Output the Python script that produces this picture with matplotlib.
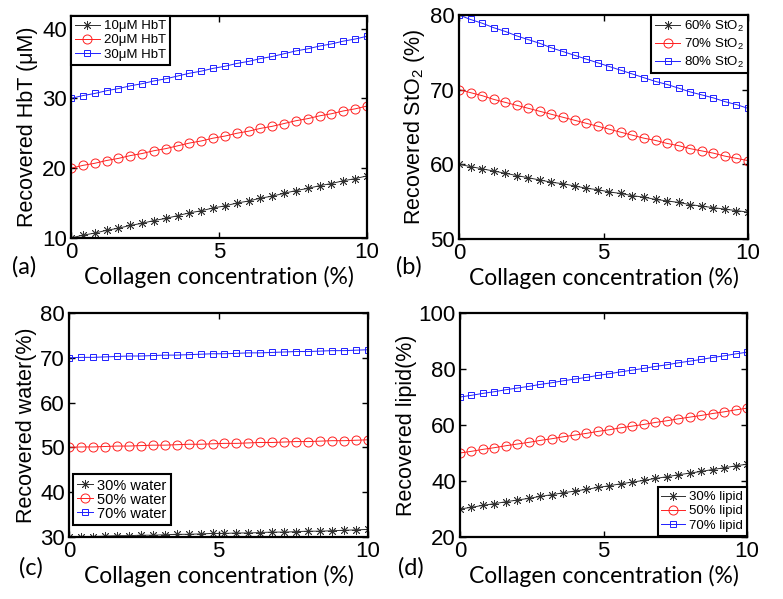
import matplotlib
matplotlib.use("Agg")
import matplotlib.pyplot as plt
import numpy as np

plt.rcParams['font.family'] = ['Liberation Sans', 'DejaVu Sans']
plt.rcParams['mathtext.default'] = 'regular'

# ---------------- data ----------------
collagen = [0.0, 0.4, 0.8, 1.2, 1.6, 2.0, 2.4, 2.8, 3.2, 3.6, 4.0, 4.4, 4.8,
            5.2, 5.6, 6.0, 6.4, 6.8, 7.2, 7.6, 8.0, 8.4, 8.8, 9.2, 9.6, 10.0]

hbt_10 = [10.0, 10.4, 10.7, 11.1, 11.4, 11.8, 12.1, 12.5, 12.8, 13.2, 13.6, 13.9, 14.3,
          14.6, 15.0, 15.3, 15.7, 16.0, 16.4, 16.8, 17.1, 17.5, 17.8, 18.2, 18.5, 18.9]
hbt_20 = [20.0, 20.4, 20.7, 21.1, 21.4, 21.8, 22.1, 22.5, 22.8, 23.2, 23.6, 23.9, 24.3,
          24.6, 25.0, 25.3, 25.7, 26.0, 26.4, 26.8, 27.1, 27.5, 27.8, 28.2, 28.5, 28.9]
hbt_30 = [30.0, 30.4, 30.7, 31.1, 31.4, 31.8, 32.1, 32.5, 32.8, 33.2, 33.6, 33.9, 34.3,
          34.6, 35.0, 35.3, 35.7, 36.0, 36.4, 36.8, 37.1, 37.5, 37.8, 38.2, 38.5, 38.9]

sto2_60 = [60.0, 59.7, 59.4, 59.1, 58.8, 58.5, 58.2, 57.9, 57.6, 57.4, 57.1, 56.8, 56.6,
           56.3, 56.1, 55.8, 55.6, 55.3, 55.1, 54.9, 54.6, 54.4, 54.2, 54.0, 53.8, 53.6]
sto2_70 = [70.0, 69.6, 69.2, 68.7, 68.3, 67.9, 67.5, 67.1, 66.7, 66.3, 65.9, 65.5, 65.1,
           64.7, 64.3, 63.9, 63.5, 63.2, 62.8, 62.5, 62.1, 61.8, 61.5, 61.1, 60.8, 60.5]
sto2_80 = [80.0, 79.4, 78.9, 78.3, 77.8, 77.2, 76.7, 76.2, 75.6, 75.1, 74.6, 74.1, 73.6,
           73.1, 72.6, 72.1, 71.6, 71.1, 70.7, 70.2, 69.7, 69.3, 68.9, 68.4, 68.0, 67.5]

water_30 = [30.0, 30.1, 30.1, 30.2, 30.3, 30.3, 30.4, 30.4, 30.5, 30.6, 30.6, 30.7, 30.8,
            30.8, 30.9, 30.9, 31.0, 31.1, 31.1, 31.2, 31.3, 31.3, 31.4, 31.5, 31.6, 31.7]
water_50 = [50.0, 50.1, 50.1, 50.2, 50.3, 50.3, 50.4, 50.5, 50.5, 50.6, 50.7, 50.7, 50.8,
            50.9, 50.9, 51.0, 51.1, 51.1, 51.2, 51.3, 51.3, 51.4, 51.5, 51.5, 51.6, 51.7]
water_70 = [70.0, 70.1, 70.1, 70.2, 70.3, 70.4, 70.4, 70.5, 70.6, 70.6, 70.7, 70.8, 70.9,
            70.9, 71.0, 71.1, 71.1, 71.2, 71.3, 71.4, 71.4, 71.5, 71.6, 71.6, 71.7, 71.8]

lipid_30 = [30.0, 30.6, 31.3, 31.9, 32.6, 33.2, 33.8, 34.5, 35.1, 35.8, 36.4, 37.0, 37.7,
            38.3, 39.0, 39.6, 40.2, 40.9, 41.5, 42.2, 42.8, 43.4, 44.1, 44.7, 45.4, 46.0]
lipid_50 = [50.0, 50.6, 51.3, 51.9, 52.6, 53.2, 53.8, 54.5, 55.1, 55.8, 56.4, 57.0, 57.7,
            58.3, 59.0, 59.6, 60.2, 60.9, 61.5, 62.2, 62.8, 63.4, 64.1, 64.7, 65.4, 66.0]
lipid_70 = [70.0, 70.6, 71.3, 71.9, 72.6, 73.2, 73.8, 74.5, 75.1, 75.8, 76.4, 77.0, 77.7,
            78.3, 79.0, 79.6, 80.2, 80.9, 81.5, 82.2, 82.8, 83.4, 84.1, 84.7, 85.4, 86.0]

labels_a = ['10μM HbT', '20μM HbT', '30μM HbT']
labels_b = ['60% StO$_2$', '70% StO$_2$', '80% StO$_2$']
labels_c = ['30% water', '50% water', '70% water']
labels_d = ['30% lipid', '50% lipid', '70% lipid']

xlabel = 'Collagen concentration (%)'
ylabels = ['Recovered HbT (μM)', 'Recovered StO$_2$ (%)',
           'Recovered water(%)', 'Recovered lipid(%)']
panel_tags = ['(a)', '(b)', '(c)', '(d)']

# ---------------- figure ----------------
W, H = 783, 599
fig = plt.figure(figsize=(W / 100, H / 100), dpi=100)


def add_ax(left, right, top, bottom):
    return fig.add_axes([left / W, 1 - bottom / H, (right - left) / W, (bottom - top) / H])


axes = [add_ax(71, 367, 16, 238), add_ax(459, 748, 15, 239),
        add_ax(69, 368, 313, 537), add_ax(460, 747, 313, 537)]

series = [(hbt_10, hbt_20, hbt_30), (sto2_60, sto2_70, sto2_80),
          (water_30, water_50, water_70), (lipid_30, lipid_50, lipid_70)]
labels = [labels_a, labels_b, labels_c, labels_d]
ylims = [(10, 41.8), (50, 80), (30, 80), (20, 100)]
yticks = [[10, 20, 30, 40], [50, 60, 70, 80], [30, 40, 50, 60, 70, 80], [20, 40, 60, 80, 100]]
styles = [dict(color='#303030', marker=(8, 2, 0), markersize=6.5, mew=0.6),
          dict(color='#ff2020', marker='o', markersize=6.5, mfc='none', mew=0.7),
          dict(color='#2020ff', marker='s', markersize=5, mfc='none', mew=0.7)]
ylab_x = [-0.111, -0.111, -0.107, -0.15]

for i, ax in enumerate(axes):
    for ys, lab, st in zip(series[i], labels[i], styles):
        ax.plot(collagen, ys, lw=0.7, label=lab, **st)
    ax.set_xlim(0, 10)
    ax.set_ylim(*ylims[i])
    ax.set_xticks([0, 5, 10])
    ax.set_yticks(yticks[i])
    ax.tick_params(direction='in', length=4, width=1, top=True, right=True,
                   labelsize=16, pad=3)
    for sp in ax.spines.values():
        sp.set_linewidth(1.6)
    ax.set_xlabel(xlabel, fontsize=16.5, family=['Lato', 'DejaVu Sans'])
    ax.xaxis.set_label_coords(0.5, -0.125)
    ax.set_ylabel(ylabels[i], fontsize=15.5)
    ax.yaxis.set_label_coords(ylab_x[i], 0.5)

leg_common = dict(frameon=True, fancybox=False, framealpha=1, edgecolor='black',
                  borderaxespad=0, borderpad=0.3, handletextpad=0.3)
legs = [
    axes[0].legend(loc='upper left', bbox_to_anchor=(0, 1), fontsize=9.5,
                   handlelength=1.9, labelspacing=0.15, **leg_common),
    axes[1].legend(loc='upper right', bbox_to_anchor=(1, 1), fontsize=9.5,
                   handlelength=1.9, labelspacing=0.2, **leg_common),
    axes[2].legend(loc='lower left', bbox_to_anchor=(0.012, 0.054), fontsize=10.5,
                   handlelength=1.1, labelspacing=0.0, **leg_common),
    axes[3].legend(loc='lower right', bbox_to_anchor=(1, 0.006), fontsize=9.5,
                   handlelength=1.8, labelspacing=0.15, **leg_common),
]
for lg in legs:
    lg.get_frame().set_linewidth(1.5)

tag_pos = [(12, 267), (396, 267), (19, 568), (398, 568)]
for tag, (px, py) in zip(panel_tags, tag_pos):
    fig.text(px / W, 1 - py / H, tag, fontsize=17, family=['Lato', 'DejaVu Sans'],
             ha='left', va='center')

fig.savefig('out.png', dpi=100)
